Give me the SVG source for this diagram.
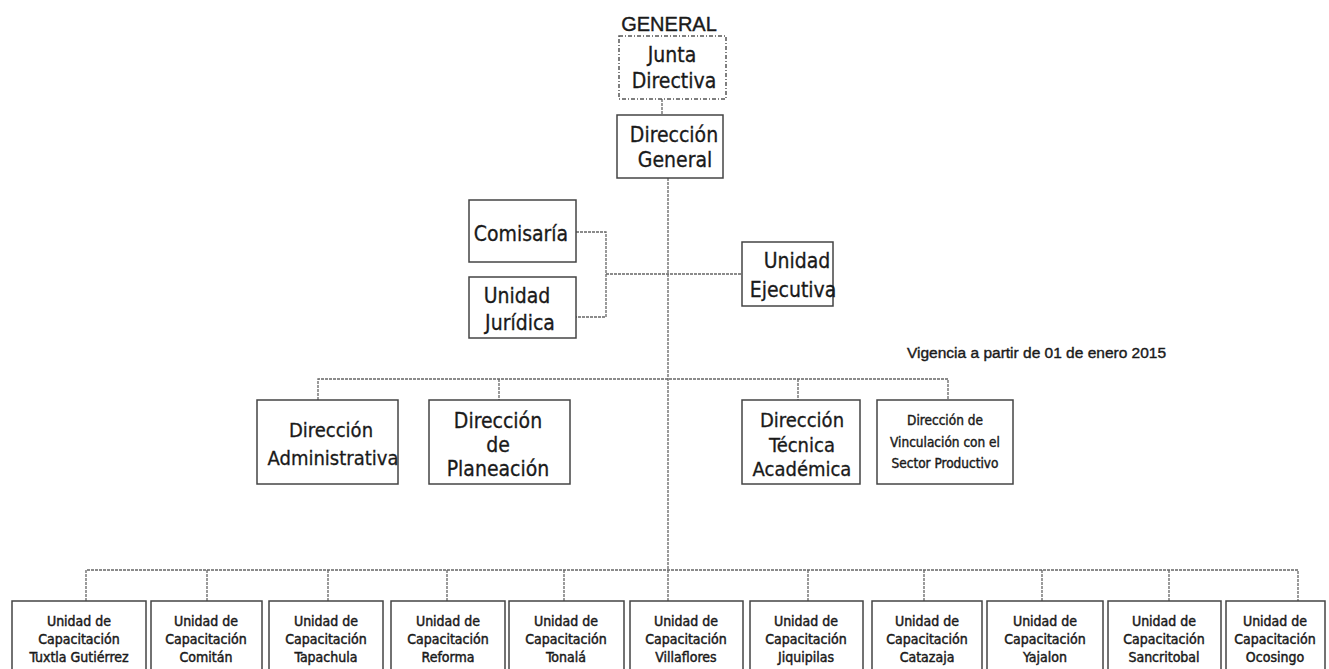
<svg xmlns="http://www.w3.org/2000/svg" width="1329" height="669" viewBox="0 0 1329 669">
<style>
.box{fill:#fff;stroke:#444;stroke-width:1.5}
.dot{fill:#fff;stroke:#555;stroke-width:1.5;stroke-dasharray:4 2 1 2}
.conn{fill:none;stroke:#666;stroke-width:1.3;stroke-dasharray:3 1}
.t{font-family:"DejaVu Sans Condensed","DejaVu Sans",sans-serif;font-stretch:condensed;fill:#1a1a1a;stroke:#1a1a1a;stroke-width:0.3;text-anchor:middle}
.b21{font-size:21px}
.b20{font-size:20px}
.s14{font-size:14px;stroke-width:0.45}
.s13{font-size:13.5px;stroke-width:0.4}
.h{font-family:"Liberation Sans",Arial,sans-serif;fill:#1a1a1a;stroke:#1a1a1a;stroke-width:0.4}
</style>
<rect width="1329" height="669" fill="#fff"/>
<text class="h" x="669" y="31" font-size="20" text-anchor="middle">GENERAL</text>
<text class="h" x="907" y="358" font-size="15.5">Vigencia a partir de 01 de enero 2015</text>
<g id="connectors">
<path class="conn" d="M662 99V115"/>
<path class="conn" d="M668 178V570"/>
<path class="conn" d="M576 232H606V317H576"/>
<path class="conn" d="M606 274H742"/>
<path class="conn" d="M318 400V379H948V400"/>
<path class="conn" d="M499 379V400M798 379V400"/>
<path class="conn" d="M86 601V570H1298V601"/>
<path class="conn" d="M207 570V601M328 570V601M447 570V601M564 570V601M668 570V601M808 570V601M924 570V601M1042 570V601M1169 570V601"/>
</g>
<g id="junta"><rect class="dot" x="619" y="36" width="107" height="63"/><text class="t b21" x="672" y="62">Junta</text><text class="t b21" x="674" y="88">Directiva</text></g>
<g id="direccion-general"><rect class="box" x="617" y="115" width="106" height="63"/><text class="t b21" x="674" y="142">Dirección</text><text class="t b21" x="675" y="167">General</text></g>
<g id="comisaria"><rect class="box" x="469" y="200" width="107" height="62"/><text class="t b21" x="521" y="241">Comisaría</text></g>
<g id="juridica"><rect class="box" x="469" y="277" width="107" height="61"/><text class="t b21" x="517" y="303">Unidad</text><text class="t b21" x="520" y="330">Jurídica</text></g>
<g id="ejecutiva"><rect class="box" x="742" y="242" width="91" height="64"/><text class="t b21" x="797" y="268">Unidad</text><text class="t b21" x="793" y="297">Ejecutiva</text></g>
<g id="administrativa"><rect class="box" x="257" y="400" width="141" height="84"/><text class="t b20" x="331" y="437">Dirección</text><text class="t b20" x="333" y="465">Administrativa</text></g>
<g id="planeacion"><rect class="box" x="429" y="400" width="141" height="84"/><text class="t b21" x="498" y="428">Dirección</text><text class="t b21" x="498" y="452">de</text><text class="t b21" x="498" y="476">Planeación</text></g>
<g id="tecnica"><rect class="box" x="742" y="400" width="118" height="84"/><text class="t b20" x="802" y="427">Dirección</text><text class="t b20" x="802" y="452">Técnica</text><text class="t b20" x="802" y="476">Académica</text></g>
<g id="vinculacion"><rect class="box" x="877" y="400" width="136" height="84"/><text class="t s13" x="945" y="425">Dirección de</text><text class="t s13" x="945" y="447">Vinculación con el</text><text class="t s13" x="945" y="468">Sector Productivo</text></g>
<g id="u1"><rect class="box" x="12" y="601" width="134" height="76"/><text class="t s14" x="79" y="626">Unidad de</text><text class="t s14" x="79" y="644">Capacitación</text><text class="t s14" x="79" y="662">Tuxtla Gutiérrez</text></g>
<g id="u2"><rect class="box" x="151" y="601" width="111" height="76"/><text class="t s14" x="206" y="626">Unidad de</text><text class="t s14" x="206" y="644">Capacitación</text><text class="t s14" x="206" y="662">Comitán</text></g>
<g id="u3"><rect class="box" x="269" y="601" width="114" height="76"/><text class="t s14" x="326" y="626">Unidad de</text><text class="t s14" x="326" y="644">Capacitación</text><text class="t s14" x="326" y="662">Tapachula</text></g>
<g id="u4"><rect class="box" x="391" y="601" width="114" height="76"/><text class="t s14" x="448" y="626">Unidad de</text><text class="t s14" x="448" y="644">Capacitación</text><text class="t s14" x="448" y="662">Reforma</text></g>
<g id="u5"><rect class="box" x="509" y="601" width="115" height="76"/><text class="t s14" x="566" y="626">Unidad de</text><text class="t s14" x="566" y="644">Capacitación</text><text class="t s14" x="566" y="662">Tonalá</text></g>
<g id="u6"><rect class="box" x="630" y="601" width="113" height="76"/><text class="t s14" x="686" y="626">Unidad de</text><text class="t s14" x="686" y="644">Capacitación</text><text class="t s14" x="686" y="662">Villaflores</text></g>
<g id="u7"><rect class="box" x="750" y="601" width="113" height="76"/><text class="t s14" x="806" y="626">Unidad de</text><text class="t s14" x="806" y="644">Capacitación</text><text class="t s14" x="806" y="662">Jiquipilas</text></g>
<g id="u8"><rect class="box" x="872" y="601" width="110" height="76"/><text class="t s14" x="927" y="626">Unidad de</text><text class="t s14" x="927" y="644">Capacitación</text><text class="t s14" x="927" y="662">Catazaja</text></g>
<g id="u9"><rect class="box" x="987" y="601" width="116" height="76"/><text class="t s14" x="1045" y="626">Unidad de</text><text class="t s14" x="1045" y="644">Capacitación</text><text class="t s14" x="1045" y="662">Yajalon</text></g>
<g id="u10"><rect class="box" x="1108" y="601" width="113" height="76"/><text class="t s14" x="1164" y="626">Unidad de</text><text class="t s14" x="1164" y="644">Capacitación</text><text class="t s14" x="1164" y="662">Sancritobal</text></g>
<g id="u11"><rect class="box" x="1226" y="601" width="99" height="76"/><text class="t s14" x="1275" y="626">Unidad de</text><text class="t s14" x="1275" y="644">Capacitación</text><text class="t s14" x="1275" y="662">Ocosingo</text></g>
</svg>
